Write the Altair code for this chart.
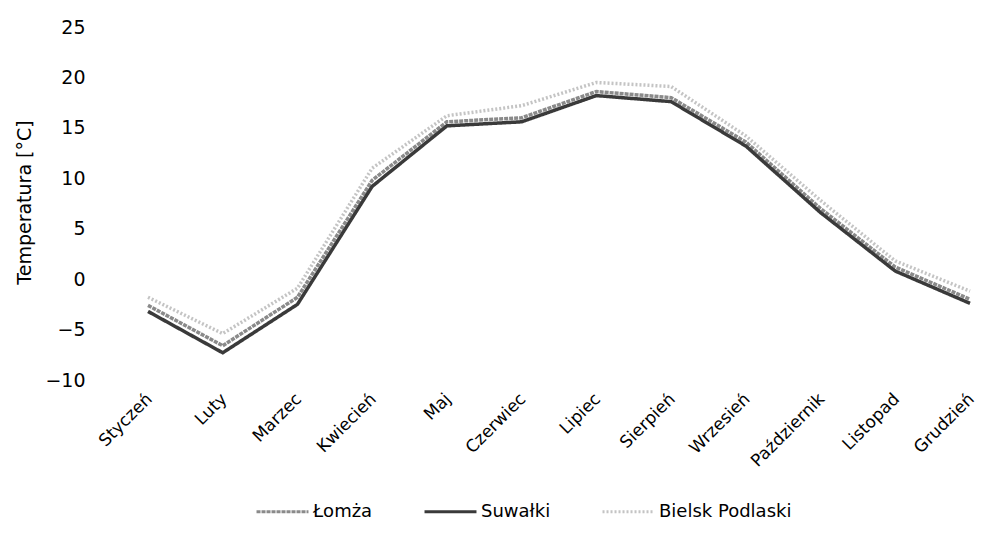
import altair as alt
import pandas as pd

months = ["Styczeń", "Luty", "Marzec", "Kwiecień", "Maj", "Czerwiec", "Lipiec",
          "Sierpień", "Wrzesień", "Październik", "Listopad", "Grudzień"]
series = ["Łomża", "Suwałki", "Bielsk Podlaski"]
lomza = [-2.6, -6.6, -1.8, 9.8, 15.6, 16.0, 18.6, 18.0, 13.6, 7.0, 1.2, -2.0]
suwalki = [-3.2, -7.3, -2.5, 9.2, 15.2, 15.6, 18.2, 17.6, 13.2, 6.6, 0.8, -2.4]
bielsk = [-1.8, -5.4, -0.9, 11.0, 16.2, 17.2, 19.5, 19.1, 14.2, 7.8, 1.8, -1.2]

rows = []
for name, vals in zip(series, [lomza, suwalki, bielsk]):
    for m, v in zip(months, vals):
        rows.append({"Miesiąc": m, "Seria": name, "Temperatura": v})
df = pd.DataFrame(rows)

FONT = "DejaVu Sans"

chart = alt.Chart(df).mark_line(interpolate="linear").encode(
    x=alt.X("Miesiąc:N", sort=months,
            scale=alt.Scale(type="point", padding=0),
            axis=alt.Axis(title=None, labelAngle=-45, labelAlign="right",
                          labelBaseline="middle", labelPadding=16, labelOffset=1,
                          ticks=False, domain=False, grid=False,
                          labelFont=FONT, labelFontSize=17, labelColor="#000",
                          labelOverlap=False)),
    y=alt.Y("Temperatura:Q",
            scale=alt.Scale(domain=[-10, 25], nice=False, zero=False),
            axis=alt.Axis(title="Temperatura [°C]", values=list(range(-10, 30, 5)),
                          ticks=False, domain=False, grid=False,
                          labelPadding=63, labelFont=FONT, labelFontSize=19,
                          labelColor="#000", titleFont=FONT, titleFontSize=19,
                          titleFontWeight="normal", titleColor="#000",
                          titleX=-114, titleY=175, titleAngle=-90)),
    color=alt.Color("Seria:N", sort=series,
                    scale=alt.Scale(domain=series, range=["#8a8a8a", "#3a3a3a", "#c4c4c4"]),
                    legend=alt.Legend(title=None, orient="none", direction="horizontal",
                                      legendX=107, legendY=457, symbolType="stroke",
                                      symbolSize=2700, symbolStrokeWidth=3,
                                      labelFont=FONT, labelFontSize=18, labelColor="#000",
                                      labelOffset=3, columnPadding=45, labelLimit=300)),
    strokeDash=alt.StrokeDash("Seria:N", sort=series,
                              scale=alt.Scale(domain=series, range=[[4, 1], [1, 0], [2, 2]]),
                              legend=None),
    strokeWidth=alt.value(3.5),
).properties(
    width=822, height=353,
    padding={"left": 140, "top": 19, "right": 7, "bottom": 150},
    autosize=alt.AutoSizeParams(type="none"),
).configure_view(stroke=None)

chart.save("out.html", embed_options={"renderer": "svg", "actions": False})
